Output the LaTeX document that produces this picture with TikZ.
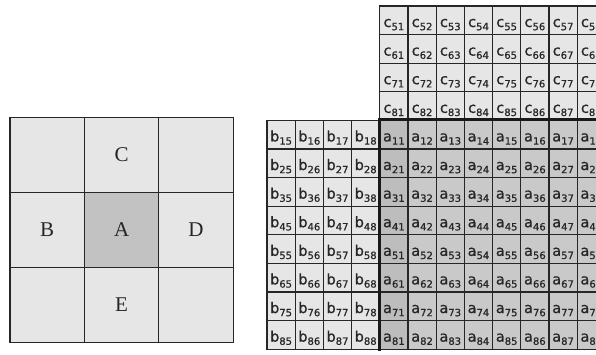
\documentclass[tikz,border=0pt]{standalone}
\usepackage{fontspec}
\newfontfamily\cellfont[FakeBold=0.8]{DejaVu Sans}
\newfontfamily\bigfont{Liberation Serif}
\definecolor{lightc}{HTML}{E6E6E6}
\definecolor{acell}{HTML}{C2C2C2}
\definecolor{darkc}{HTML}{C9C9C9}
\definecolor{darkerc}{HTML}{BDBDBD}
\newcommand\lbl[2]{{\fontsize{14.5}{14.5}\selectfont #1}\raisebox{-3.2pt}{\fontsize{10}{10}\selectfont #2}}
\begin{document}
\begin{tikzpicture}[x=1pt,y=-1pt,
  cellbase/.style={draw=black!85, line width=1.3pt, inner sep=0pt,
    minimum width=28.2pt, minimum height=28.6pt, text height=15pt,
    text depth=1.6pt, font=\cellfont, text=black!85},
  light/.style={cellbase, fill=lightc},
  dark/.style={cellbase, fill=darkc},
  darker/.style={cellbase, fill=darkerc},
  big/.style={draw=black!85, line width=1.2pt, minimum width=74.4pt,
    minimum height=75pt, inner sep=0pt, fill=lightc,
    font=\fontsize{21}{21}\selectfont\bigfont, text=black!85},
  sep/.style={line width=3pt, draw=black!90, line cap=rect}]
\useasboundingbox (0,0) rectangle (596,354);
\clip (0,0) rectangle (596,354);
% left grid
\node[big] (g11) at (47.2,154.8) {};
\node[big] (g12) at (121.6,154.8) {C};
\node[big] (g13) at (196,154.8) {};
\node[big] (g21) at (47.2,229.8) {B};
\node[big, fill=acell] (g22) at (121.6,229.8) {A};
\node[big] (g23) at (196,229.8) {D};
\node[big] (g31) at (47.2,304.8) {};
\node[big] (g32) at (121.6,304.8) {E};
\node[big] (g33) at (196,304.8) {};
% right grid: b block
\foreach \i in {1,...,8}{
  \foreach \j in {5,...,8}{
    \node[light] (b\i\j) at ({267+(\j-5)*28.2+14.1},{120.4+(\i-1)*28.6+14.3}) {\lbl{b}{\i\j}};
  }
}
% a block
\foreach \i in {1,...,8}{
  \foreach \j in {1,...,8}{
    \ifnum\j=1 \def\st{darker}\else\def\st{dark}\fi
    \node[\st] (a\i\j) at ({379.8+(\j-1)*28.2+14.1},{120.4+(\i-1)*28.6+14.3}) {\lbl{a}{\i\j}};
  }
}
% c block
\foreach \i in {5,...,8}{
  \foreach \j in {1,...,8}{
    \node[light] (c\i\j) at ({379.8+(\j-1)*28.2+14.1},{6+(\i-5)*28.6+14.3}) {\lbl{c}{\i\j}};
  }
}
\draw[sep] (a11.north west) -- (a81.south west);
\draw[sep] (a11.north west) -- (a18.north east);
\end{tikzpicture}
\end{document}
